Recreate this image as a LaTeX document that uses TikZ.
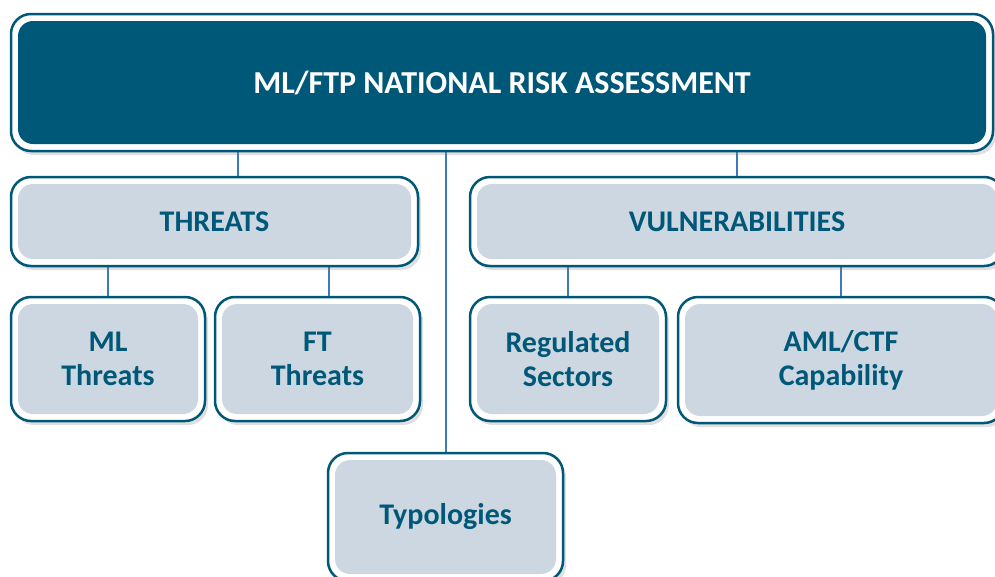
\documentclass[tikz,border=0pt]{standalone}
\usepackage{fontspec}
\setmainfont{Carlito}
\usetikzlibrary{shadows,backgrounds}
\definecolor{nraTeal}{RGB}{0,88,120}
\definecolor{nraFill}{RGB}{205,215,225}
\definecolor{nraLink}{RGB}{60,122,188}

\begin{document}
\begin{tikzpicture}[x=1pt, y=-1pt,
    riskbox/.style={draw=nraTeal, line width=2.5pt, fill=white, rounded corners=20pt,
        inner sep=0pt, align=center, text=nraTeal,
        font=\fontsize{30}{34}\selectfont\bfseries,
        drop shadow={shadow xshift=3pt, shadow yshift=-4pt, opacity=0.25},
        path picture={\fill[#1, rounded corners=15pt]
            ([shift={(7pt,7pt)}]path picture bounding box.south west) rectangle
            ([shift={(-7pt,-7pt)}]path picture bounding box.north east);}},
    riskbox/.default=nraFill,
    link/.style={draw=nraLink, line width=2pt}]

    % Fix the page to the reference size
    \useasboundingbox (0,0) rectangle (995,576);
    \clip (0,0) rectangle (995,576);

    % Draw the top box
    \node[riskbox=nraTeal, text=white, font=\fontsize{32}{36}\selectfont\bfseries, minimum width=982pt, minimum height=137pt] (nra) at (502,82.5) {ML/FTP NATIONAL RISK ASSESSMENT};

    % Draw the two main branches
    \node[riskbox, minimum width=407pt, minimum height=89pt] (threats) at (214.5,221.5) {THREATS};
    \node[riskbox, minimum width=534pt, minimum height=89pt] (vuln) at (737,221.5) {VULNERABILITIES};

    % Draw the sub-boxes
    \node[riskbox, minimum width=194pt, minimum height=124pt] (mlthreats) at (108,359) {ML\\Threats};
    \node[riskbox, minimum width=205pt, minimum height=124pt] (ftthreats) at (317.5,359) {FT\\Threats};
    \node[riskbox, minimum width=196pt, minimum height=124pt] (regsectors) at (568,359) {Regulated\\Sectors};
    \node[riskbox, minimum width=326pt, minimum height=126pt] (amlctf) at (841,360) {AML/CTF\\Capability};
    \node[riskbox, minimum width=235pt, minimum height=128pt] (typologies) at (445.5,517) {Typologies};

    % Define join points that are off centre
    \coordinate (threatsjoin) at ([xshift=23.5pt]threats.north);
    \coordinate (ftjoin) at ([xshift=11.5pt]ftthreats.north);

    % Connect the boxes behind them
    \begin{scope}[on background layer]
        \draw[link] (threatsjoin) -- (threatsjoin |- nra.south);
        \draw[link] (vuln.north) -- (vuln.north |- nra.south);
        \draw[link] (typologies.north) -- (typologies.north |- nra.south);
        \draw[link] (mlthreats.north) -- (mlthreats.north |- threats.south);
        \draw[link] (ftjoin) -- (ftjoin |- threats.south);
        \draw[link] (regsectors.north) -- (regsectors.north |- vuln.south);
        \draw[link] (amlctf.north) -- (amlctf.north |- vuln.south);
    \end{scope}

\end{tikzpicture}
\end{document}
